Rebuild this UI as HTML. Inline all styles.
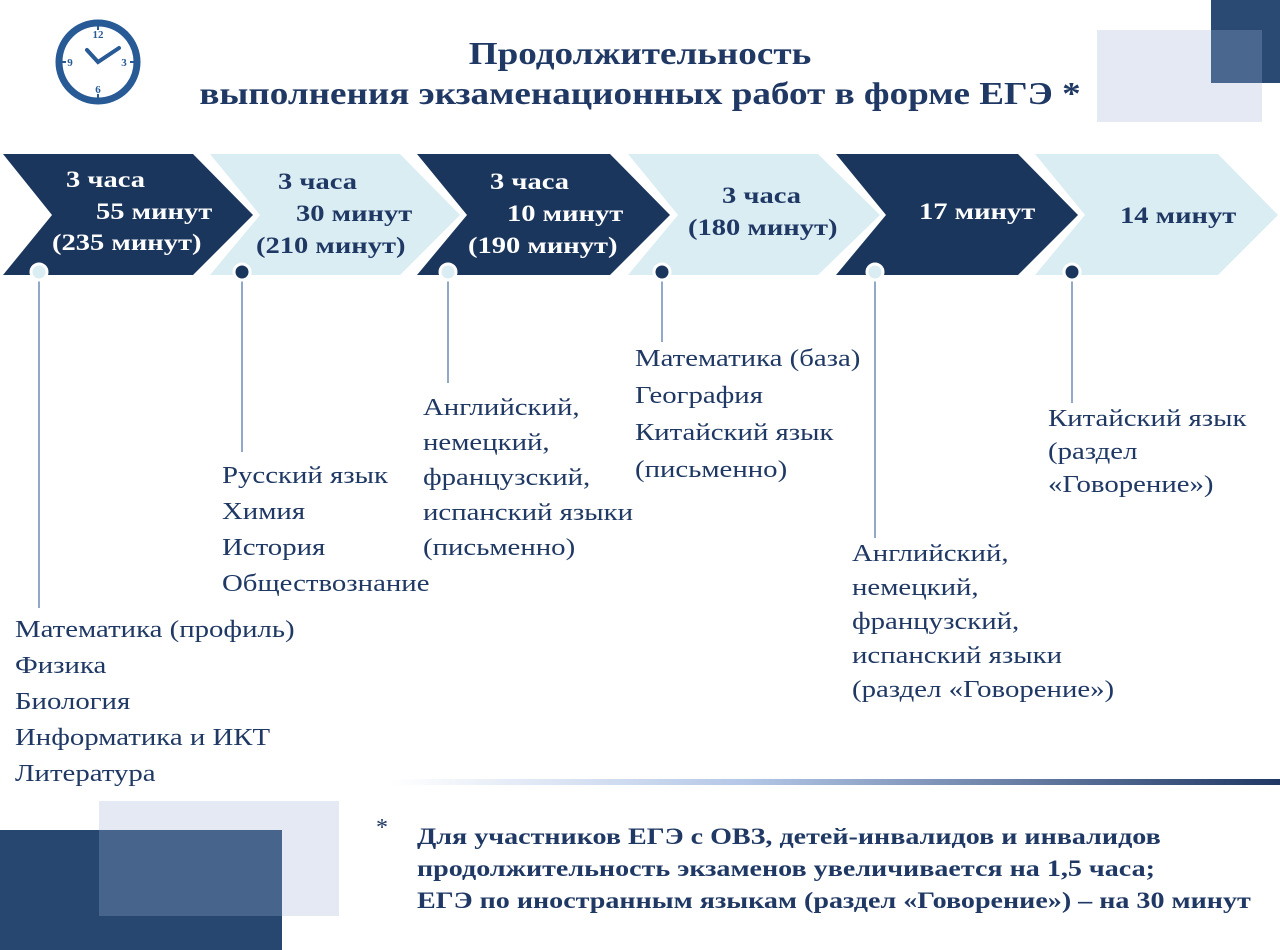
<!DOCTYPE html>
<html><head><meta charset="utf-8"><style>
body{margin:0;width:1280px;height:950px;background:#fff;overflow:hidden;position:relative;font-family:"Liberation Serif","DejaVu Serif",serif;color:#1f3864}
.t{position:absolute;white-space:nowrap;transform-origin:0 0}
.b{font-weight:bold}
.l{font-size:24px;line-height:36px;transform:scaleX(1.2)}
.c{font-size:23px;line-height:28px;font-weight:bold;transform:scaleX(1.24)}
.w{color:#fff}
</style></head><body>
<svg width="1280" height="950" style="position:absolute;left:0;top:0">
<defs><linearGradient id="g" x1="0" x2="1"><stop offset="0" stop-color="#fff"/><stop offset="0.4" stop-color="#b4c7e7"/><stop offset="1" stop-color="#1f3864"/></linearGradient></defs>
<rect x="1097" y="30" width="165" height="92" fill="#e4e9f3"/>
<rect x="1211" y="0" width="69" height="83" fill="#2a4a74"/>
<rect x="1211" y="30" width="51" height="53" fill="#4a6790"/>
<rect x="0" y="830" width="282" height="120" fill="#284770"/>
<rect x="99" y="801" width="240" height="115" fill="#e4e9f3"/>
<rect x="99" y="830" width="183" height="86" fill="#46648c"/>
<rect x="390" y="779" width="890" height="6" fill="url(#g)"/>
<circle cx="98" cy="62" r="39" fill="#fff" stroke="#285a96" stroke-width="7"/>
<g stroke="#285a96" stroke-width="2">
<line x1="98" y1="26" x2="98" y2="30"/><line x1="98" y1="94" x2="98" y2="98"/>
<line x1="62" y1="62" x2="66" y2="62"/><line x1="130" y1="62" x2="134" y2="62"/>
</g>
<text x="98" y="38" font-size="11" font-weight="bold" fill="#285a96" text-anchor="middle" font-family="Liberation Serif">12</text>
<text x="98" y="93" font-size="11" font-weight="bold" fill="#285a96" text-anchor="middle">6</text>
<text x="70" y="66" font-size="11" font-weight="bold" fill="#285a96" text-anchor="middle">9</text>
<text x="124" y="66" font-size="11" font-weight="bold" fill="#285a96" text-anchor="middle">3</text>
<polyline points="87,50 98,62 119,48" fill="none" stroke="#285a96" stroke-width="4" stroke-linecap="round"/>
<polygon points="3,154 193,154 253,215 193,275 3,275 52,215" fill="#1b365d"/>
<polygon points="210,154 400,154 460,215 400,275 210,275 260,215" fill="#daedf3"/>
<polygon points="417,154 610,154 670,215 610,275 417,275 467,215" fill="#1b365d"/>
<polygon points="628,154 818,154 880,215 818,275 628,275 678,215" fill="#daedf3"/>
<polygon points="836,154 1018,154 1078,215 1018,275 836,275 886,215" fill="#1b365d"/>
<polygon points="1035,154 1218,154 1278,215 1218,275 1035,275 1085,215" fill="#daedf3"/>
<g stroke="#4a6fa5" stroke-width="1.2">
<line x1="39" y1="278" x2="39" y2="608"/>
<line x1="242" y1="278" x2="242" y2="452"/>
<line x1="448" y1="278" x2="448" y2="383"/>
<line x1="662" y1="278" x2="662" y2="342"/>
<line x1="875" y1="278" x2="875" y2="538"/>
<line x1="1072" y1="278" x2="1072" y2="403"/>
</g>
<g stroke="#fff" stroke-width="3">
<circle cx="39" cy="272" r="8" fill="#daedf3"/>
<circle cx="242" cy="272" r="8" fill="#1b365d"/>
<circle cx="448" cy="272" r="8" fill="#daedf3"/>
<circle cx="662" cy="272" r="8" fill="#1b365d"/>
<circle cx="875" cy="272" r="8" fill="#daedf3"/>
<circle cx="1072" cy="272" r="8" fill="#1b365d"/>
</g>
</svg>
<div class="t b" style="left:0;width:1280px;text-align:center;top:33px;font-size:32px;line-height:40px;transform:scaleX(1.16);transform-origin:640px 0">Продолжительность<br>выполнения экзаменационных работ в форме ЕГЭ *</div>
<div class="t c w" style="left:66px;top:166px">3 часа</div>
<div class="t c w" style="left:96px;top:198px">55 минут</div>
<div class="t c w" style="left:52px;top:229px">(235 минут)</div>
<div class="t c" style="left:278px;top:168px">3 часа</div>
<div class="t c" style="left:296px;top:200px">30 минут</div>
<div class="t c" style="left:256px;top:232px">(210 минут)</div>
<div class="t c w" style="left:490px;top:168px">3 часа</div>
<div class="t c w" style="left:507px;top:200px">10 минут</div>
<div class="t c w" style="left:468px;top:232px">(190 минут)</div>
<div class="t c" style="left:722px;top:182px">3 часа</div>
<div class="t c" style="left:688px;top:214px">(180 минут)</div>
<div class="t c w" style="left:919px;top:198px">17 минут</div>
<div class="t c" style="left:1120px;top:202px">14 минут</div>
<div class="t l" style="left:15px;top:612px">Математика (профиль)<br>Физика<br>Биология<br>Информатика и ИКТ<br>Литература</div>
<div class="t l" style="left:222px;top:458px">Русский язык<br>Химия<br>История<br>Обществознание</div>
<div class="t l" style="left:423px;top:391px;line-height:35px">Английский,<br>немецкий,<br>французский,<br>испанский языки<br>(письменно)</div>
<div class="t l" style="left:635px;top:341px;line-height:37px">Математика (база)<br>География<br>Китайский язык<br>(письменно)</div>
<div class="t l" style="left:852px;top:537px;line-height:34px">Английский,<br>немецкий,<br>французский,<br>испанский языки<br>(раздел «Говорение»)</div>
<div class="t l" style="left:1048px;top:403px;line-height:33px">Китайский язык<br>(раздел<br>«Говорение»)</div>
<div class="t" style="left:376px;top:815px;font-size:24px">*</div>
<div class="t b" style="left:417px;top:821px;font-size:23px;line-height:32px;transform:scaleX(1.22)">Для участников ЕГЭ с ОВЗ, детей-инвалидов и инвалидов<br>продолжительность экзаменов увеличивается на 1,5 часа;<br>ЕГЭ по иностранным языкам (раздел «Говорение») – на 30 минут</div>
</body></html>
